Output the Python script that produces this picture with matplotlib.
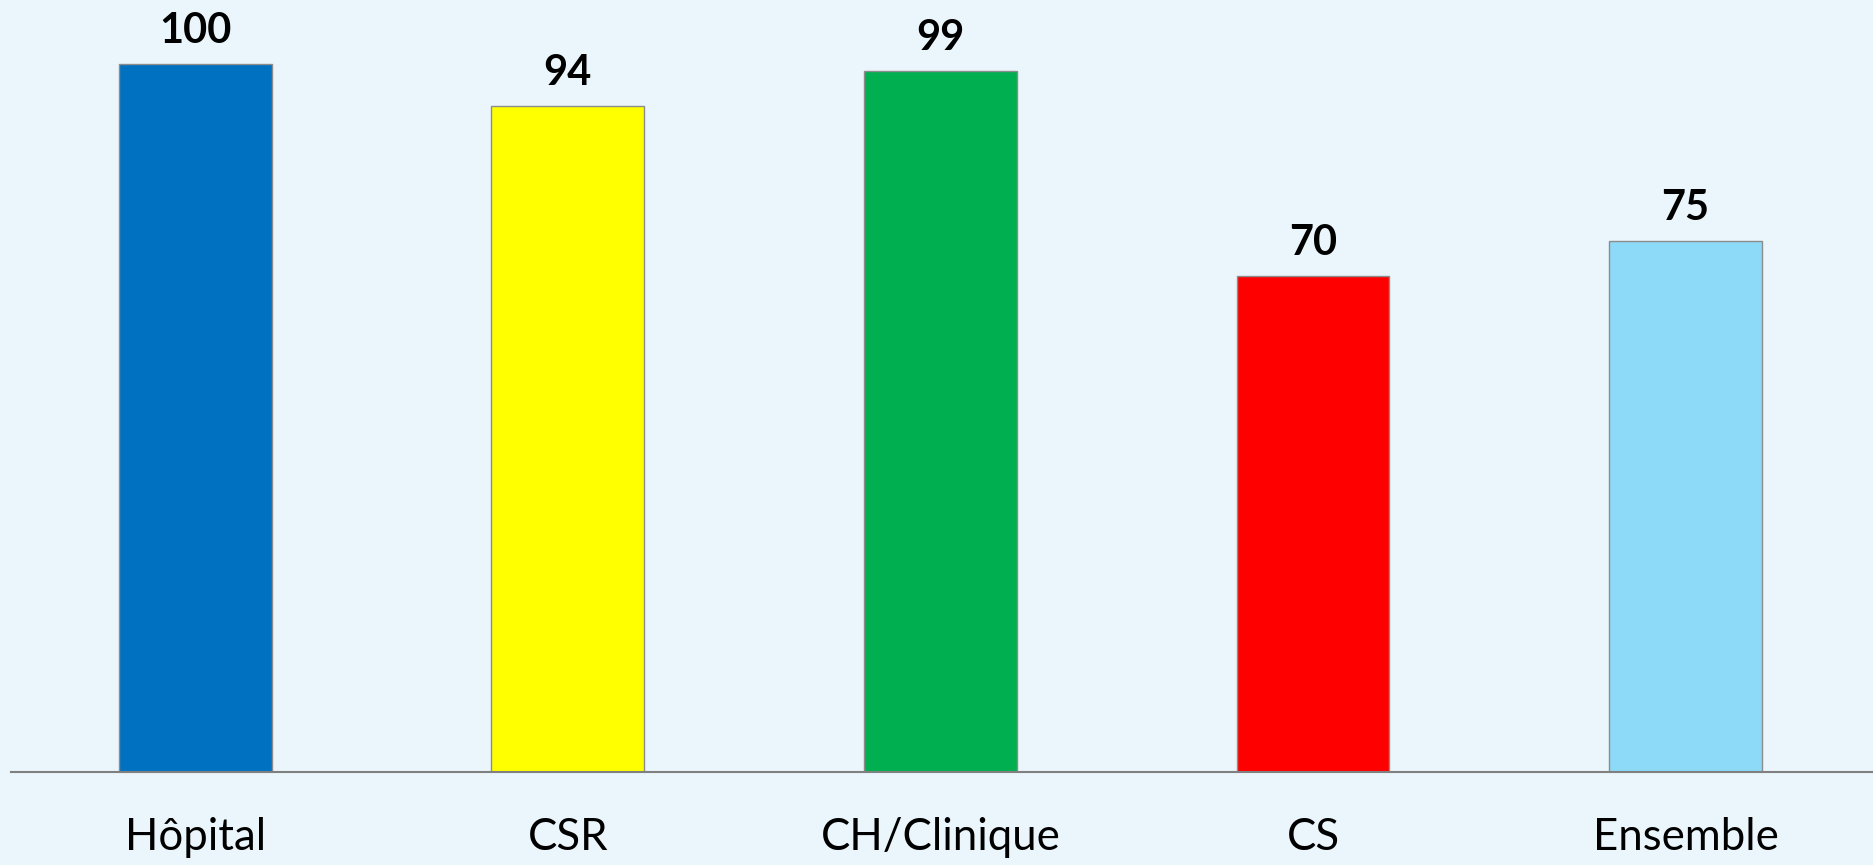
import matplotlib.pyplot as plt

# categories and values
categories = ['Hôpital', 'CSR', 'CH/Clinique', 'CS', 'Ensemble']
values = [100, 94, 99, 70, 75]
colors = ['#0070C0', '#FFFF00', '#00B050', '#FF0000', '#8DD9F8']

plt.rcParams['font.family'] = ['Lato', 'DejaVu Sans']

bg = '#EAF6FB'
fig = plt.figure(figsize=(18.74, 8.65), dpi=100, facecolor=bg)
ax = fig.add_axes([0.006, 0.1075, 0.994, 0.8925])
ax.set_facecolor(bg)

x = range(len(categories))
ax.bar(x, values, width=0.41, color=colors, edgecolor='#8c8c8c', linewidth=1.0, zorder=2)

# value labels above bars
for i, v in enumerate(values):
    ax.text(i, v + 3.0, str(v), ha='center', va='baseline', fontsize=30,
            fontweight='bold', color='black')

# category labels under the axis line
for i, c in enumerate(categories):
    ax.text(i, -11.0, c, ha='center', va='baseline', fontsize=31.5,
            color='black', clip_on=False)

ax.set_xlim(-0.494, len(categories) - 0.494)
ax.set_ylim(0, 109.04)
ax.set_xticks([])
ax.set_yticks([])
for side in ['top', 'right', 'left']:
    ax.spines[side].set_visible(False)
ax.spines['bottom'].set_color('#808080')
ax.spines['bottom'].set_linewidth(1.5)
ax.spines['bottom'].set_zorder(3)

fig.savefig('out.png', dpi=100, facecolor=bg)
